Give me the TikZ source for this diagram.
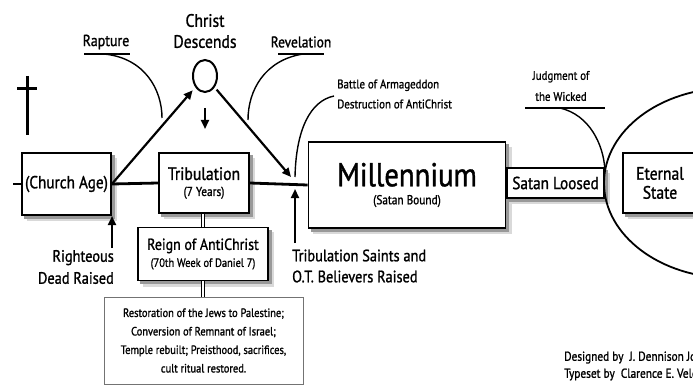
\documentclass[tikz,border=0pt]{standalone}
\usepackage{fontspec}
\setmainfont{PT Sans}[FakeStretch=0.87,FakeBold=1.2]
\usetikzlibrary{arrows.meta,shapes.geometric}
\pgfdeclarelayer{back}
\pgfdeclarelayer{shade}
\pgfsetlayers{back,shade,main}
\newcommand\fz[2]{\fontsize{#1pt}{#2pt}\selectfont}
\newcommand\shad[1]{\begin{pgfonlayer}{shade}
  \fill[black!15] ([xshift=5.5pt,yshift=-5.5pt]#1.south west) rectangle ([xshift=5.5pt,yshift=-5.5pt]#1.north east);
  \fill[black!40] ([xshift=3pt,yshift=-3pt]#1.south west) rectangle ([xshift=3pt,yshift=-3pt]#1.north east);
\end{pgfonlayer}}
\begin{document}
\begin{tikzpicture}[x=1pt,y=-1pt,
  box/.style={draw,line width=1.8pt,fill=white,inner sep=0pt,align=center},
  tl/.style={line width=2.8pt},
  arr/.style={line width=2.2pt,-{Triangle[length=9pt,width=8pt]}},
  lead/.style={line width=1.4pt},
  ul/.style={line width=1.8pt},
  lbl/.style={inner sep=0pt,align=center}]
\useasboundingbox (0,0) rectangle (693,385);
\begin{pgfonlayer}{back}
\fill[white] (0,0) rectangle (693,385);
\end{pgfonlayer}
% eternity ellipse
\node[draw,ellipse,line width=1.8pt,minimum width=252pt,minimum height=190pt,inner sep=0pt] (eternity) at (730,183) {};
% cross
\coordinate (crT) at (27,76);
\coordinate (crB) at (27,135);
\coordinate (crL) at (17,89);
\coordinate (crR) at (37,89);
\draw[line width=3pt] (crT) -- (crB);
\draw[line width=3pt] (crL) -- (crR);
% boxes
\node[box,minimum width=89pt,minimum height=62pt,font=\fz{17.5}{18}] (church) at (66.5,184) {(Church Age)};
\node[box,minimum width=90pt,minimum height=60pt,font=\fz{13}{16}] (trib) at (204,183) {{\fz{18}{18}Tribulation}\\(7 Years)};
\node[box,minimum width=130pt,minimum height=53pt,font=\fz{12}{17}] (reign) at (203,254) {{\fz{16}{18}Reign of AntiChrist}\\(70th Week of Daniel 7)};
\node[draw=black!55,line width=0.8pt,fill=white,minimum width=199pt,minimum height=87pt,inner sep=0pt,align=center,font=\fz{12}{18.5}] (restor) at (203.5,340.5)
  {Restoration of the Jews to Palestine;\\Conversion of Remnant of Israel;\\Temple rebuilt; Preisthood, sacrifices,\\cult ritual restored.};
\node[box,minimum width=197pt,minimum height=86pt,font=\fz{13}{18}] (mill) at (407,185) {{\fz{33}{34}Millennium}\\(Satan Bound)};
\node[box,minimum width=97pt,minimum height=30pt,font=\fz{17.5}{18}] (satan) at (555.5,183) {Satan Loosed};
\node[box,minimum width=74pt,minimum height=60pt,font=\fz{18}{19}] (eternal) at (660,183) {Eternal\\State};
\shad{church}\shad{trib}\shad{reign}\shad{mill}\shad{satan}\shad{eternal}
% timeline
\coordinate (tickL) at (13,184);
\draw[tl] (tickL) -- (church.west);
\draw[tl] (church.east) -- (trib.west);
\draw[tl] (trib.east) -- (mill.west);
% double links
\draw[line width=0.9pt,double,double distance=2.2pt] (reign.north) -- (reign.north |- trib.south);
\draw[line width=0.9pt,double,double distance=2.2pt] (reign.south) -- (reign.south |- restor.north);
% Christ
\node[draw,ellipse,line width=2pt,minimum width=24pt,minimum height=32pt,inner sep=0pt] (christ) at (205,76) {};
\node[lbl,font=\fz{18}{21}] (christlbl) at (205,31) {Christ\\Descends};
\draw[arr,shorten >=4pt] (church.east) -- (christ);
\coordinate (revEnd) at (291,177);
\draw[arr,shorten <=3pt] (christ) -- (revEnd);
\coordinate (dnS) at (205,108);
\coordinate (dnE) at (205,129);
\draw[arr] (dnS) -- (dnE);
% Rapture
\node[lbl,font=\fz{16}{16}] (rapture) at (106,42) {Rapture};
\coordinate (rapL) at (84,54);
\coordinate (rapR) at (130,54);
\draw[ul] (rapL) -- (rapR);
\coordinate (rapA) at (104,54);
\coordinate (rapB) at (162,118);
\draw[lead] (rapA) .. controls (145,58) and (162,90) .. (rapB);
% Revelation
\node[lbl,font=\fz{15.5}{16}] (revel) at (301,42) {Revelation};
\coordinate (revL) at (278,54);
\coordinate (revR) at (324,54);
\draw[ul] (revL) -- (revR);
\coordinate (revA) at (303,54);
\coordinate (revB) at (248,120);
\draw[lead] (revA) .. controls (265,60) and (248,90) .. (revB);
% Battle
\node[lbl,align=left,anchor=west,font=\fz{12.5}{20}] (battle) at (337,94) {Battle of Armageddon\\Destruction of AntiChrist};
\coordinate (batA) at (334,96);
\coordinate (batB) at (295,177);
\draw[lead] (batA) .. controls (310,101) and (296,130) .. (batB);
% raised arrows
\coordinate (rdS) at (112,248);
\coordinate (rdE) at (112,216);
\draw[arr] (rdS) -- (rdE);
\node[lbl,align=right,anchor=east,font=\fz{16.5}{22}] (righteous) at (114,267) {Righteous\\Dead Raised};
\coordinate (tsS) at (295,243);
\coordinate (tsE) at (295,189);
\draw[arr] (tsS) -- (tsE);
\node[lbl,align=left,anchor=west,font=\fz{16.5}{21}] (saints) at (292,266) {Tribulation Saints and\\O.T. Believers Raised};
% Judgment
\node[lbl,font=\fz{12.5}{21}] (judg) at (561,86) {Judgment of\\the Wicked};
\coordinate (jL) at (525,108);
\coordinate (jR) at (605,108);
\draw[ul] (jL) -- (jR);
\coordinate (jA) at (560,108);
\draw[lead] (jA) .. controls (590,115) and (603,145) .. (eternity.173);
% credits
\node[lbl,align=left,anchor=west,font=\fz{13}{17}] (credits) at (564,366) {Designed by\ \ J. Dennison Jones\\Typeset by\ \ Clarence E. Veldkamp};
\end{tikzpicture}
\end{document}
